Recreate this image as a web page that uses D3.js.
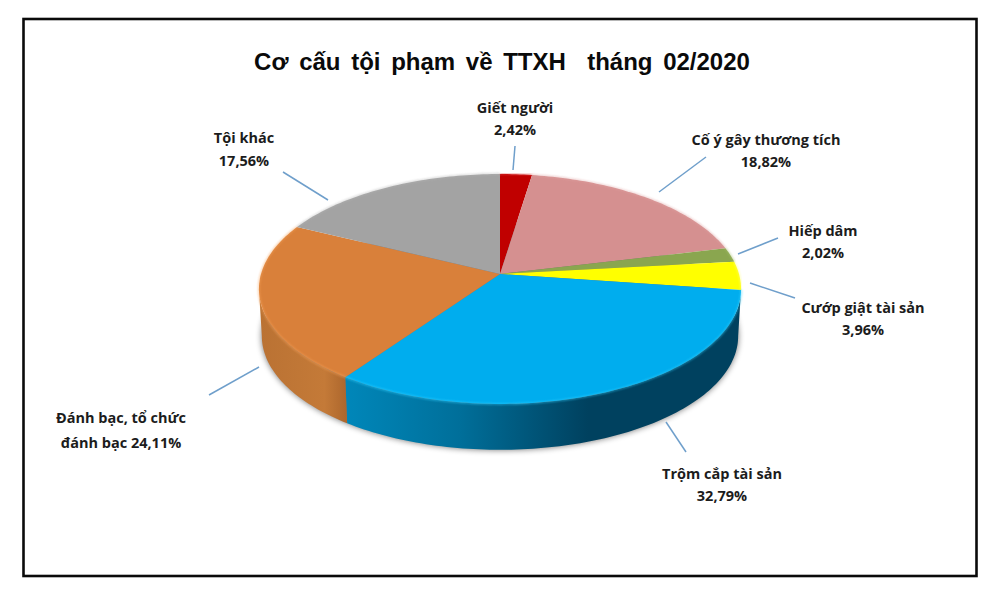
<!DOCTYPE html>
<html><head><meta charset="utf-8"><script src="https://cdn.jsdelivr.net/npm/d3@7"></script>
<style>html,body{margin:0;background:#fff}svg{display:block}</style></head><body><svg id="c" width="1000" height="599"></svg>
<script>
const categoryLines=[["Giết người"],["Cố ý gây thương tích"],["Hiếp dâm"],["Cướp giật tài sản"],["Trộm cắp tài sản"],["Đánh bạc, tổ chức"],["Tội khác"]];
// Printed labels, as in the picture (they add up to 102.68).
const valueLabels=["2,42%","18,82%","2,02%","3,96%","32,79%","đánh bạc 24,11%","17,56%"];
const sliceShares=[2.42,18.82,2.02,3.96,32.6,22.43,17.75];
const colors=["#c00000","#d59090","#8aa64f","#ffff00","#00adee","#d9803a","#a3a3a3"];
const titleText="Cơ cấu tội phạm về TTXH  tháng 02/2020";

const svg=d3.select("#c");
const font="'Open Sans','Liberation Sans',sans-serif";
const defs=svg.append("defs");
defs.append("filter").attr("id","blur3").attr("x","-10%").attr("y","-10%").attr("width","120%").attr("height","120%").append("feGaussianBlur").attr("stdDeviation",3);
defs.append("filter").attr("id","blur1").attr("x","-10%").attr("y","-10%").attr("width","120%").attr("height","120%").append("feGaussianBlur").attr("stdDeviation",1);
function grad(id,stops){const g=defs.append("linearGradient").attr("id",id).attr("gradientUnits","userSpaceOnUse").attr("x1",340).attr("x2",740).attr("y1",0).attr("y2",0);stops.forEach(s=>g.append("stop").attr("offset",s[0]).attr("stop-color",s[1]));}
grad("gBlue",[[0,"#0088bb"],[0.3,"#006f9a"],[0.62,"#00415f"],[1,"#00415f"]]);
const gO=defs.append("linearGradient").attr("id","gOrange").attr("gradientUnits","userSpaceOnUse").attr("x1",260).attr("x2",346).attr("y1",0).attr("y2",0);
[[0,"#ba7233"],[0.75,"#c47a38"],[1,"#ad672d"]].forEach(s=>gO.append("stop").attr("offset",s[0]).attr("stop-color",s[1]));

svg.append("rect").attr("x",23.5).attr("y",19).attr("width",953).attr("height",557).attr("fill","#fff").attr("stroke","#0a0a0a").attr("stroke-width",2.6);
svg.append("text").attr("x",502).attr("y",70).attr("text-anchor","middle").attr("font-family","'Liberation Sans',sans-serif").attr("font-weight","bold").attr("font-size",24).attr("word-spacing",4).attr("style","white-space:pre").attr("fill","#0a0a0a").text(titleText);

// Perspective projection of the pie disc: apex (500,274), rim 174..404, half width 241.
const cx=500,cy=274,persp=0.1304,sy=113,sx=239;
function pt(a){const X=Math.sin(a),Y=Math.cos(a),d=1+persp*Y;return [cx+sx*X/d,cy-sy*Y/d];}
function ptBottom(a){const p=pt(a);return [cx+(p[0]-cx)*0.988,336+(p[1]-289)*0.99];}
function arcPts(f,a0,a1){const n=Math.max(2,Math.ceil((a1-a0)*50));return d3.range(n+1).map(i=>f(a0+(a1-a0)*i/n));}
const line=d3.line();
const pie=d3.pie().sort(null).value(d=>d)(sliceShares);
const visA=1.7017,visB=2*Math.PI-1.7017;

// soft shadow under the disc
svg.append("path").attr("d",line(arcPts(ptBottom,0,2*Math.PI))+"Z").attr("fill","#000").attr("opacity",.55).attr("filter","url(#blur3)");

// side wall
const sideFill=i=>i==4?"url(#gBlue)":"url(#gOrange)";
pie.forEach((d,i)=>{
 const a0=Math.max(d.startAngle,visA),a1=Math.min(d.endAngle,visB);
 if(a1-a0<0.05)return;
 const start=i==4?visA:a0;
 const top=arcPts(pt,start,a1),bot=arcPts(ptBottom,start,a1).reverse();
 svg.append("path").attr("d",line(top.concat(bot))+"Z").attr("fill",sideFill(i));
});
// top face
svg.selectAll("path.top").data(pie).join("path").attr("class","top").attr("fill",(d,i)=>colors[i])
 .attr("d",d=>line([[cx,cy]].concat(arcPts(pt,d.startAngle,d.endAngle)))+"Z");
// rim bevel highlight
const bevel=svg.append("g");
const bevelCol=["#e04040","#e0a4a4","#a6c070","#ffff80","#30d0ff","#f7a45c","#b4b4b4"];
pie.forEach((d,i)=>bevel.append("path").attr("d",line(arcPts(pt,d.startAngle,d.endAngle))).attr("fill","none").attr("stroke",bevelCol[i]).attr("stroke-width",1.4).attr("opacity",.7).attr("filter","url(#blur1)"));

// leader lines and label anchors: layout only
const leaders=[[[513,170],[515,146]],[[659,192],[706,157]],[[738,254],[778,238]],[[750,283],[795,298]],[[666,422],[686,452]],[[209,395],[259,367]],[[328,200],[283,172]]];
const labelPos=[[515,113],[766,145],[823,236],[863,313],[722,479],[121,423],[244,143]];
const lineGap=[22,22,22,22,22,25,23];
leaders.forEach(l=>svg.append("path").attr("d",line(l)).attr("stroke","#6f9fcb").attr("stroke-width",1.5).attr("fill","none"));
categoryLines.forEach((c,i)=>{
 const t=svg.append("text").attr("text-anchor","middle").attr("font-family",font).attr("font-weight","700").attr("font-size",14.5).attr("fill","#1c1c1c");
 c.concat([valueLabels[i]]).forEach((s,j)=>t.append("tspan").attr("x",labelPos[i][0]).attr("y",labelPos[i][1]+j*lineGap[i]).text(s));
});
</script></body></html>
